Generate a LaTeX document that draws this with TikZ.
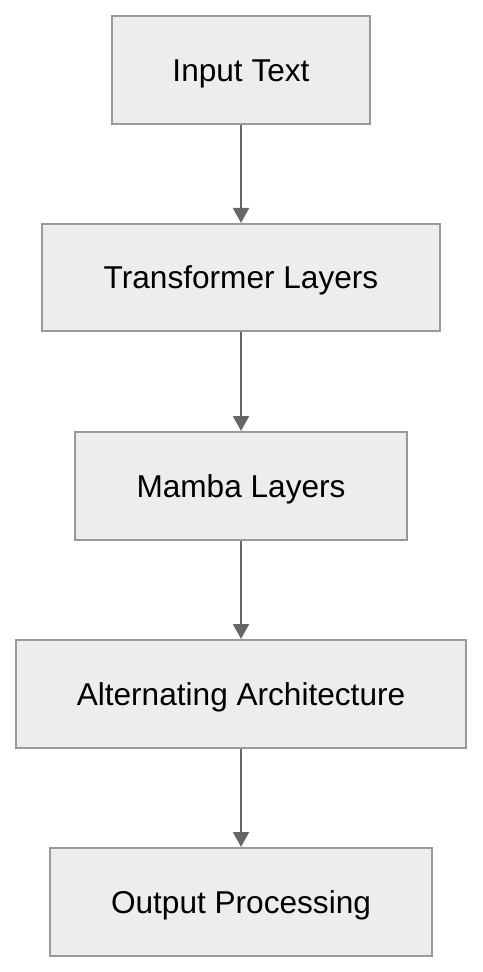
\documentclass[tikz,border=0pt]{standalone}
\usepackage{fontspec}
\setmainfont{Liberation Sans}
\usetikzlibrary{arrows.meta}

\tikzset{
  stage/.style={draw=black!40, fill=black!7, line width=1pt, inner sep=0pt,
    text height=11.3pt, text depth=0pt,
    font=\fontsize{15.8}{19}\selectfont},
  flow/.style={draw=black!60, line width=1pt, -{Triangle[width=8pt,length=7.5pt]}}
}

\begin{document}
\begin{tikzpicture}[x=0.5pt,y=0.5pt]
\useasboundingbox (0,0) rectangle (482,-972);
% Drawing stages
\node[stage, minimum width=129pt, minimum height=54pt] (input) at (241,-70) {Input Text};
\node[stage, minimum width=199pt, minimum height=53.5pt] (trans) at (241,-277.5) {Transformer Layers};
\node[stage, minimum width=166pt, minimum height=54pt] (mamba) at (241,-486) {Mamba Layers};
\node[stage, minimum width=225pt, minimum height=54pt] (alter) at (241,-694) {Alternating Architecture};
\node[stage, minimum width=191pt, minimum height=54pt] (output) at (241,-902) {Output Processing};
% Done with stages; drawing arrows
\draw[flow] (input) -- (trans);
\draw[flow] (trans) -- (mamba);
\draw[flow] (mamba) -- (alter);
\draw[flow] (alter) -- (output);
\end{tikzpicture}
\end{document}
